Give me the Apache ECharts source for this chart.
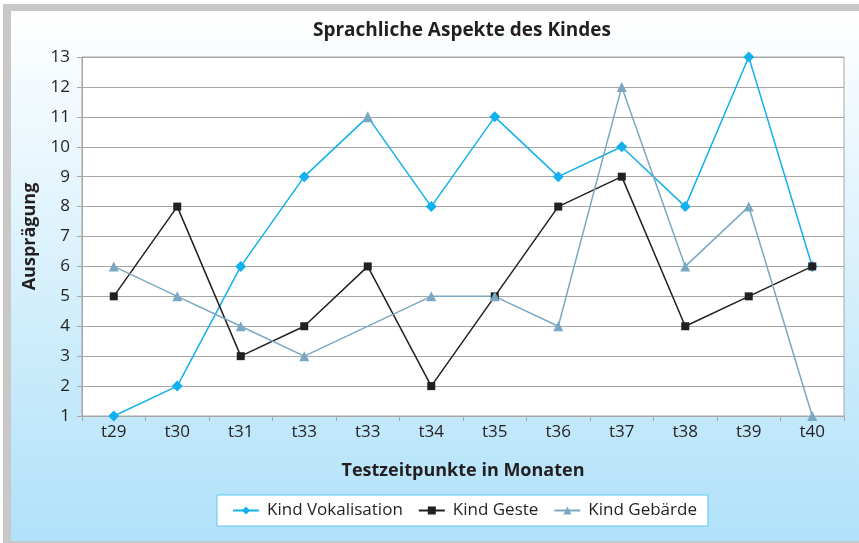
<!DOCTYPE html>
<html>
<head>
<meta charset="utf-8">
<script src="https://cdn.jsdelivr.net/npm/echarts@6/dist/echarts.min.js"></script>
<style>
html,body{margin:0;padding:0;background:#fff;}
#frame{position:absolute;left:3px;top:4px;width:856px;height:539px;background:#c8c8c8;}
#chart{position:absolute;left:11px;top:11px;width:848px;height:530px;}
</style>
</head>
<body>
<div id="frame"></div>
<div id="chart"></div>
<script>
const categories = ['t29','t30','t31','t33','t33','t34','t35','t36','t37','t38','t39','t40'];
const vokalisation = [1, 2, 6, 9, 11, 8, 11, 9, 10, 8, 13, 6];
const geste = [5, 8, 3, 4, 6, 2, 5, 8, 9, 4, 5, 6];
const gebaerde = [6, 5, 4, 3, null, 5, 5, 4, 12, 6, 8, 1];
const yTicks = [1,2,3,4,5,6,7,8,9,10,11,12,13];

const FONT = 'Open Sans';
const TXT = '#231f20';
const C_VOK = '#12b0ec';
const C_GES = '#231f20';
const C_GEB = '#7aa8c2';

const chart = echarts.init(document.getElementById('chart'), null, {renderer:'canvas'});

const vokData = vokalisation.map((v, i) => i === 4
  ? {value: v, symbol: 'triangle', symbolSize: 11, itemStyle: {color: C_GEB}}
  : v);

chart.setOption({
  backgroundColor: new echarts.graphic.LinearGradient(0, 0, 0, 1, [
    {offset: 0, color: '#ffffff'},
    {offset: 1, color: '#b0e1f9'}
  ]),
  animation: false,
  textStyle: {fontFamily: FONT},
  graphic: [{
    type: 'text',
    x: 451, y: 20,
    style: {text: 'Sprachliche Aspekte des Kindes', fontFamily: FONT, fontWeight: 'bold', fontSize: 19, fill: TXT,
      align: 'center', verticalAlign: 'middle'}
  }],
  grid: {left: 71, top: 46, right: 15, bottom: 125, show: true, backgroundColor: '#ffffff', borderColor: '#a6a6a6', borderWidth: 1},
  legend: {
    left: 206, top: 484,
    backgroundColor: '#ffffff', borderColor: '#5cc6f2', borderWidth: 1,
    padding: [7, 11, 7, 15],
    itemWidth: 26, itemHeight: 10, itemGap: 15,
    textStyle: {fontFamily: FONT, fontSize: 17, color: TXT, padding: [0, 0, 0, 3]},
    data: ['Kind Vokalisation', 'Kind Geste', 'Kind Gebärde']
  },
  xAxis: {
    type: 'category', data: categories, boundaryGap: true,
    name: 'Testzeitpunkte in Monaten', nameLocation: 'middle', nameGap: 46,
    nameTextStyle: {fontFamily: FONT, fontWeight: 'bold', fontSize: 18, color: TXT},
    axisLine: {lineStyle: {color: '#a6a6a6', width: 1}},
    axisTick: {show: true, alignWithLabel: false, length: 5, lineStyle: {color: '#a6a6a6'}},
    axisLabel: {fontFamily: FONT, fontSize: 17, color: TXT, margin: 8, interval: 0,
      formatter: (v, i) => categories[i]},
    splitLine: {show: false}
  },
  yAxis: {
    type: 'value', min: yTicks[0], max: yTicks[yTicks.length-1], interval: 1,
    name: 'Ausprägung', nameLocation: 'middle', nameGap: 43,
    nameTextStyle: {fontFamily: FONT, fontWeight: 'bold', fontSize: 18, color: TXT},
    axisLine: {show: true, lineStyle: {color: '#a6a6a6', width: 1}},
    axisTick: {show: true, length: 5, lineStyle: {color: '#a6a6a6'}},
    axisLabel: {fontFamily: FONT, fontSize: 17, color: TXT, margin: 12},
    splitLine: {show: true, lineStyle: {color: '#a6a6a6', width: 1}}
  },
  series: [
    {name: 'Kind Vokalisation', type: 'line', data: vokData, symbol: 'diamond', symbolSize: 11,
      lineStyle: {color: C_VOK, width: 1.5}, itemStyle: {color: C_VOK}},
    {name: 'Kind Geste', type: 'line', data: geste, symbol: 'rect', symbolSize: 8,
      lineStyle: {color: C_GES, width: 1.5}, itemStyle: {color: C_GES}},
    {name: 'Kind Gebärde', type: 'line', data: gebaerde, symbol: 'triangle', symbolSize: 10, connectNulls: true,
      lineStyle: {color: C_GEB, width: 1.5}, itemStyle: {color: C_GEB}}
  ]
});
</script>
</body>
</html>
